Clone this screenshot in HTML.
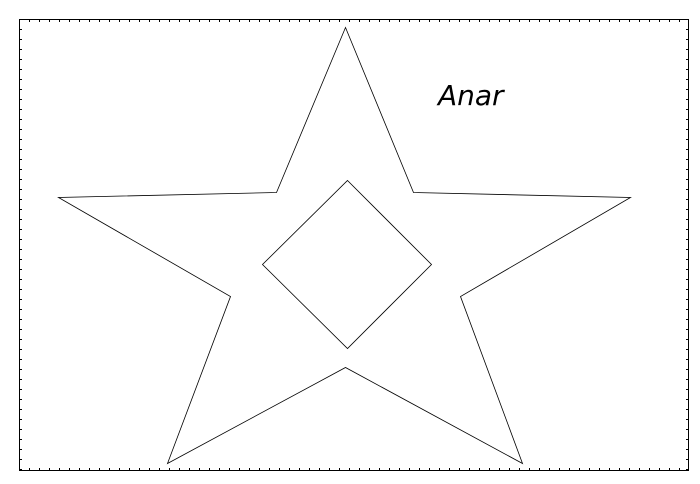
<!DOCTYPE html>
<html><head><meta charset="utf-8"><style>
html,body{margin:0;padding:0;background:#fff;}
svg{display:block;}
</style></head><body>
<svg id="chart" width="700" height="484" viewBox="0 0 700 484" xmlns="http://www.w3.org/2000/svg">
<rect x="19.5" y="19.5" width="669" height="451" fill="#fff" stroke="#000" stroke-width="1"/>
<g id="ticks"></g>
<g id="shapes"></g>
<text x="438" y="105" font-family="DejaVu Sans, sans-serif" font-style="italic" font-size="28" fill="#000">Anar</text>
</svg>
<script>
// data coordinates (x: 0..669 to the right, y: 0..451 upward from bottom of frame)
const starX = [326, 394, 611, 441, 503, 326, 148, 211, 39, 257];
const starY = [443, 278, 273, 174, 7, 103, 7, 174, 273, 278];
const diamondX = [328, 412, 328, 243];
const diamondY = [290, 206, 122, 206];
const tickPositions = [0, 8, 16, 24, 32, 40, 48, 56, 64, 72, 80, 88, 96];

const x0 = 19.5, y0 = 470.5;
function sx(v){ return x0 + v; }
function sy(v){ return y0 - v; }
const NS = 'http://www.w3.org/2000/svg';
function poly(xs, ys, name){
  const p = document.createElementNS(NS, 'polygon');
  
  
  p.setAttribute('points', xs.map((x,i)=>sx(x)+','+sy(ys[i])).join(' '));
  p.setAttribute('fill', 'none');
  p.setAttribute('stroke', '#000');
  p.setAttribute('stroke-width', '0.8');
  document.getElementById('shapes').appendChild(p);
}
poly(starX, starY, 'star-outline');
poly(diamondX, diamondY, 'diamond-outline');

// small dotted ticks along frame
const tg = document.getElementById('ticks');
let d = '';
for (let x = 19.5; x <= 688.5; x += 10) { d += 'M'+x+',20v2M'+x+',470v-2'; }
for (let y = 19.5; y <= 470.5; y += 10) { d += 'M20,'+y+'h2M688,'+y+'h-2'; }
const tp = document.createElementNS(NS, 'path');


tp.setAttribute('d', d);
tp.setAttribute('stroke', '#000');
tp.setAttribute('stroke-width', '1');
tg.appendChild(tp);
</script>
</body></html>
